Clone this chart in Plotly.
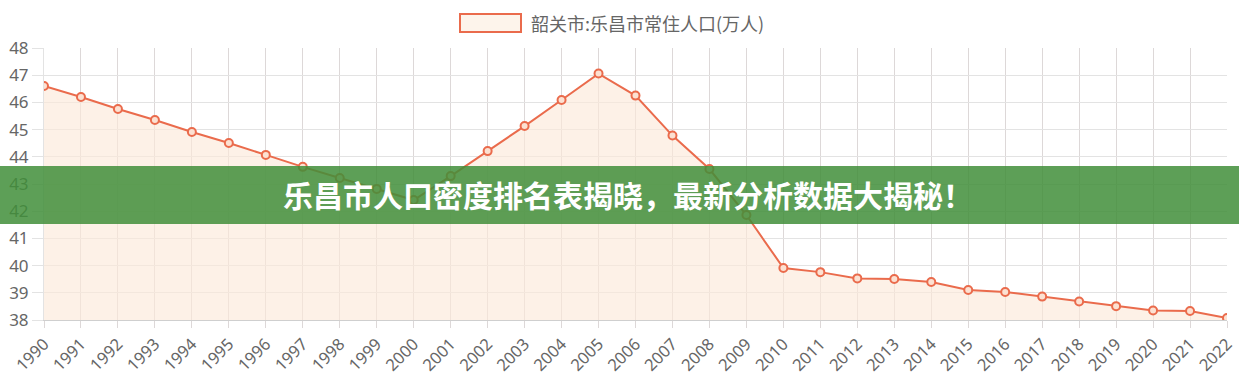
import plotly.graph_objects as go

years = [str(y) for y in range(1990, 2023)]
population = [46.60, 46.20, 45.76, 45.35, 44.91, 44.51, 44.07, 43.63, 43.22, 42.82,
              42.41, 43.29, 44.21, 45.13, 46.09, 47.06, 46.25, 44.78, 43.55, 41.86,
              39.91, 39.76, 39.53, 39.51, 39.40, 39.10, 39.03, 38.86, 38.68, 38.51,
              38.35, 38.33, 38.07]
series_name = "韶关市:乐昌市常住人口(万人)"
banner_text = "乐昌市人口密度排名表揭晓，最新分析数据大揭秘！"
y_ticks = list(range(38, 49))

LINE = "#ea6b4c"
FILL = "rgba(252,234,218,0.65)"

W, H = 1239, 390
L, R, T, B = 44, 12, 48, 70
pw, ph = W - L - R, H - T - B

def px(x):
    return (x - L) / pw

def py(y):
    return (H - B - y) / ph

fig = go.Figure()
fig.add_trace(go.Scatter(
    x=years, y=population, mode="lines+markers", fill="tozeroy",
    fillcolor=FILL, line=dict(color=LINE, width=2),
    marker=dict(size=8, color="rgba(252,225,210,1)", line=dict(color=LINE, width=2)),
    name=series_name, showlegend=False,
))

fig.update_layout(
    width=W, height=H, margin=dict(l=L, r=R, t=T, b=B, autoexpand=False),
    plot_bgcolor="white", paper_bgcolor="white",
    font=dict(family="Noto Sans, DejaVu Sans, sans-serif", color="#666"),
    xaxis=dict(type="category", showgrid=True, gridcolor="#ddd8d8", gridwidth=1,
               tickangle=-45, tickfont=dict(size=16.5, color="#666"), automargin=False,
               showline=True, linecolor="#cfcfcf", linewidth=1,
               ticks="outside", ticklen=7, tickcolor="#ddd8d8", range=[0, 32]),
    yaxis=dict(range=[38, 48], tickvals=y_ticks, showgrid=True, gridcolor="#e3e3e3",
               tickfont=dict(size=17, color="#666"), zeroline=False, automargin=False,
               ticks="outside", ticklen=11, tickcolor="#e3e3e3", showline=True,
               linecolor="#e3e3e3"),
    shapes=[
        dict(type="rect", xref="paper", yref="paper", x0=px(460), x1=px(521),
             y0=py(32), y1=py(14), line=dict(color=LINE, width=2),
             fillcolor="rgba(252,236,222,0.6)"),
        dict(type="rect", xref="paper", yref="paper", x0=px(-2), x1=px(W + 2),
             y0=py(224), y1=py(166), line=dict(width=0),
             fillcolor="rgba(65,142,58,0.85)", layer="above"),
    ],
    annotations=[
        dict(xref="paper", yref="paper", x=px(529), y=py(23), text=series_name,
             showarrow=False, xanchor="left", yanchor="middle",
             font=dict(size=18, color="#666", family="Noto Sans CJK SC")),
        dict(xref="paper", yref="paper", x=px(628), y=py(194), text="<b>" + banner_text + "</b>",
             showarrow=False, xanchor="center", yanchor="middle",
             font=dict(size=30, color="white", family="Noto Sans CJK SC")),
    ],
)

fig.write_html("out.html", config={"displayModeBar": False},
               post_script="document.body.style.margin='0';")
